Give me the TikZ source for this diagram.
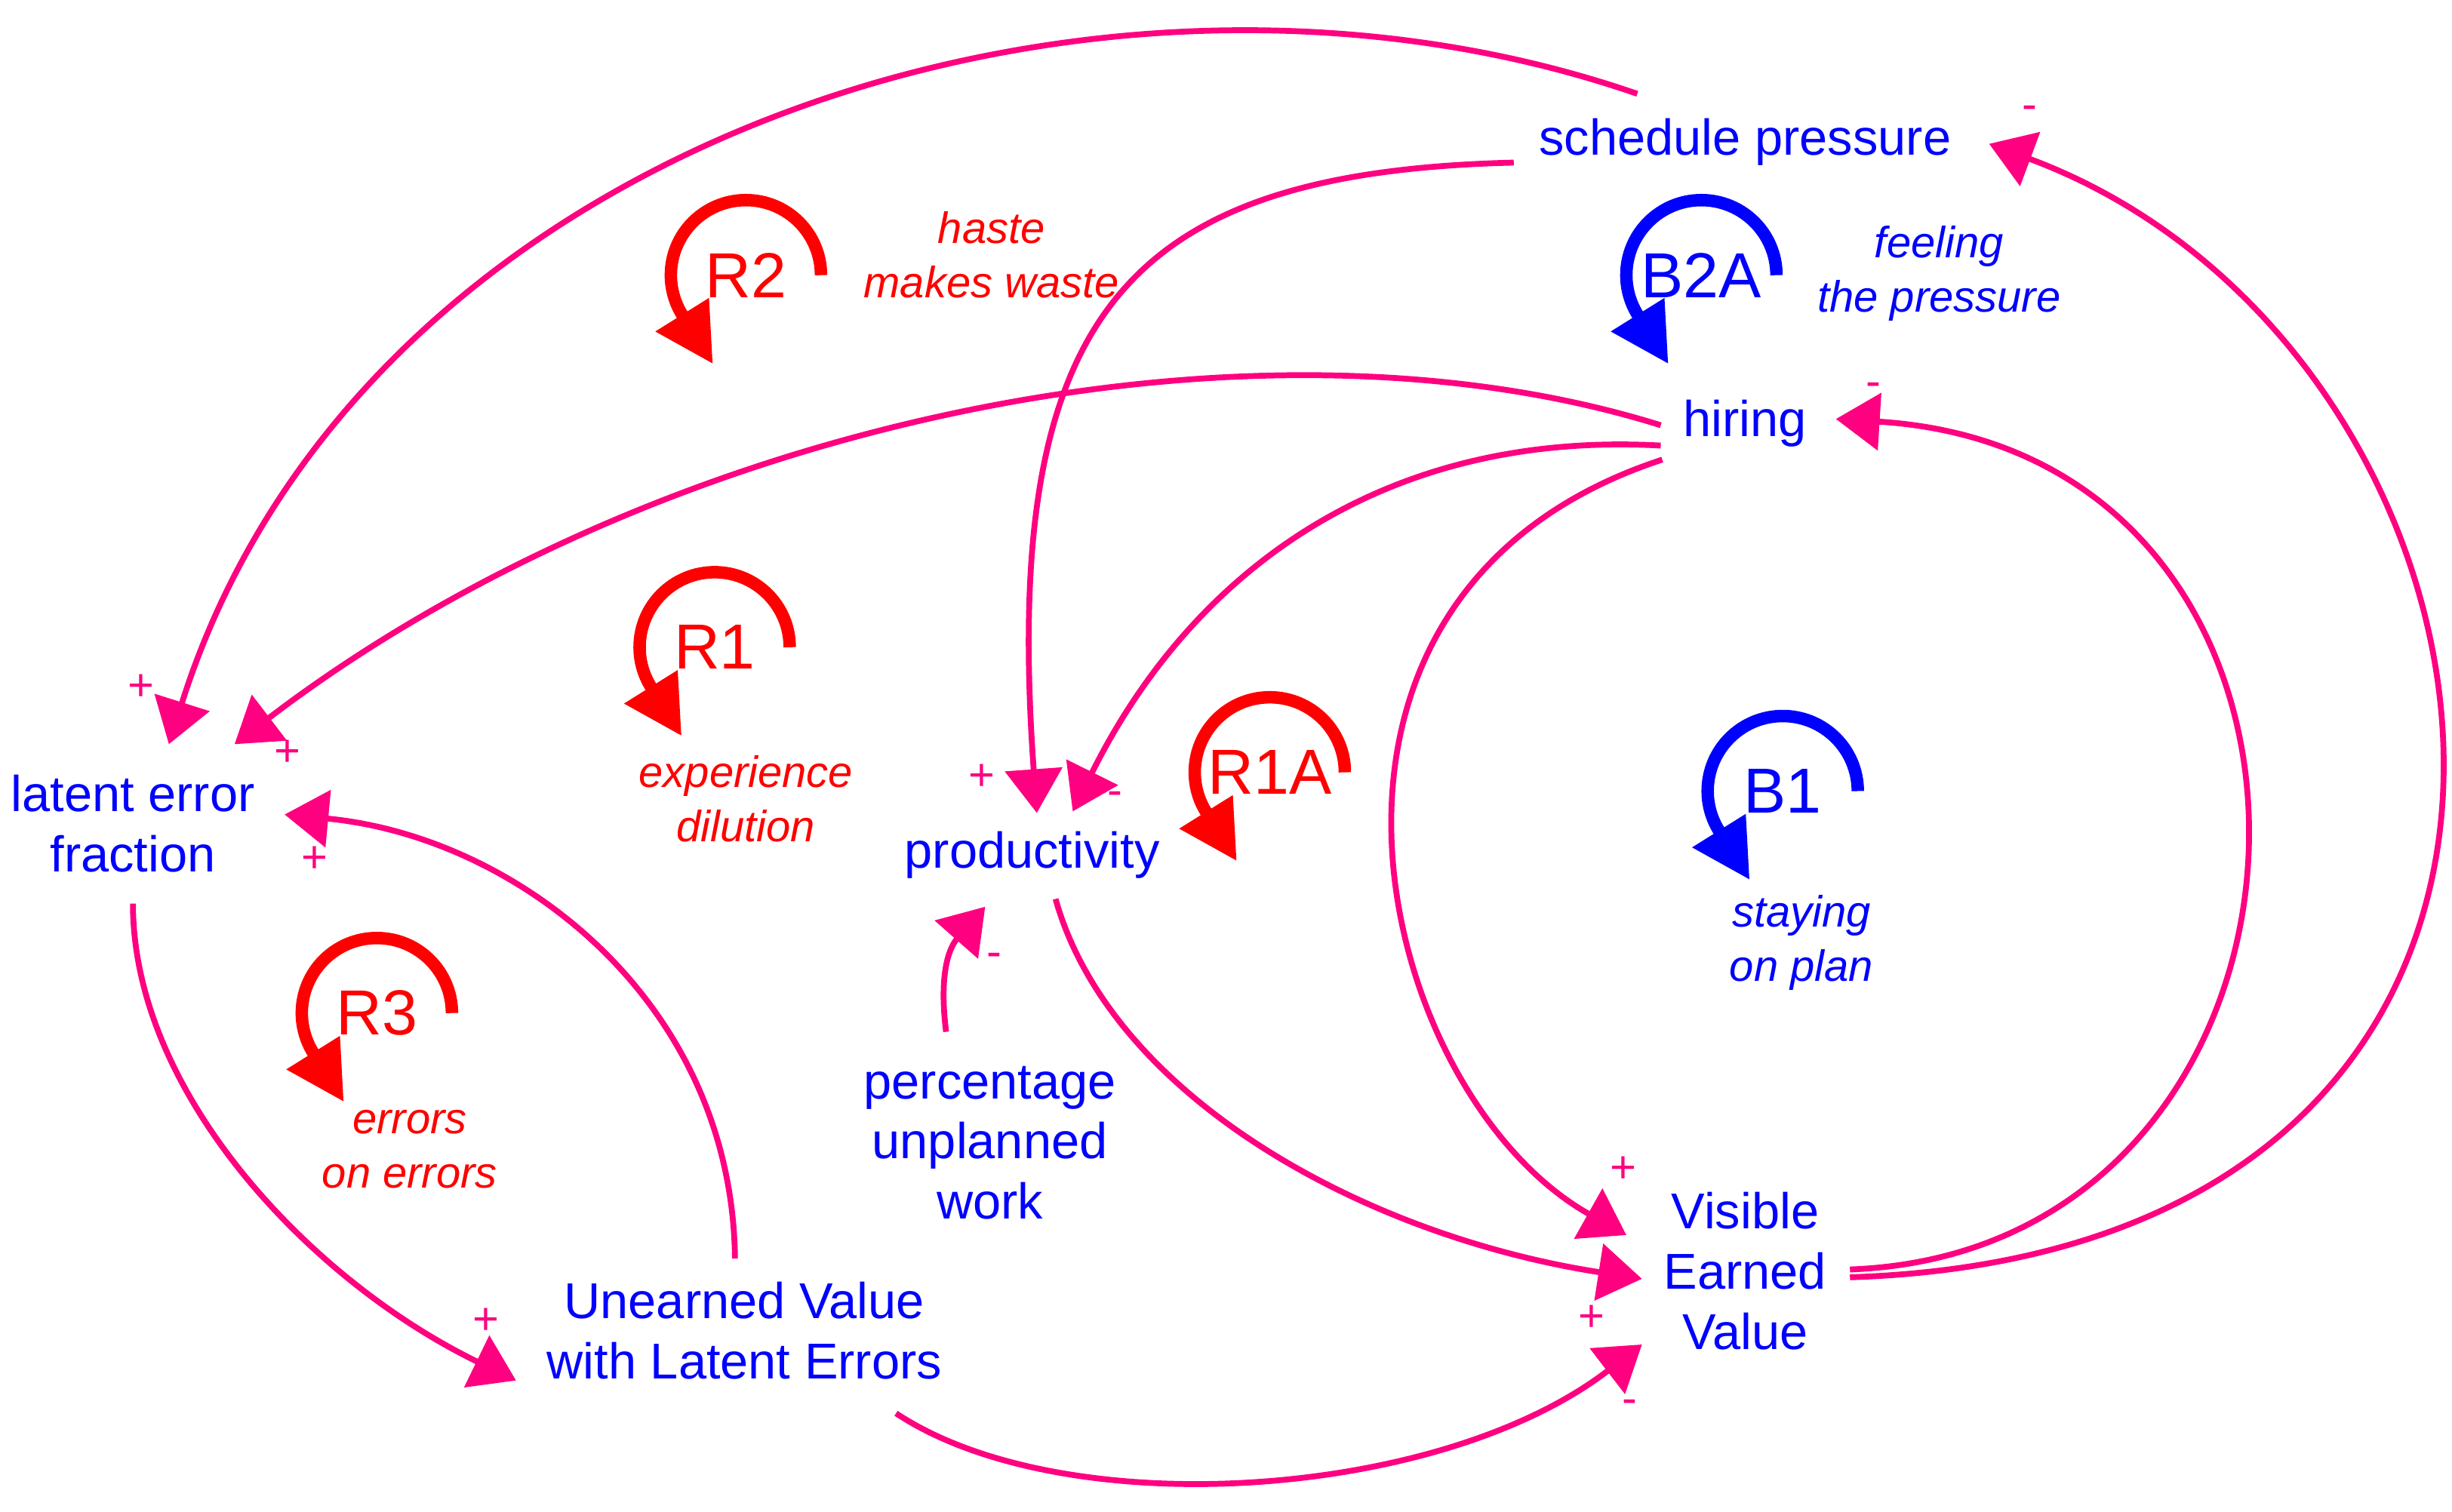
\documentclass[tikz,border=0pt]{standalone}
\usepackage{fontspec}
\setmainfont{Liberation Sans}
\usetikzlibrary{arrows.meta}

\begin{document}
\begin{tikzpicture}[>={Triangle[length=5.8mm,width=7.5mm]},line join=bevel,x=0.2072mm,y=-0.2072mm,
  var/.style={text=varcol,font=\fontsize{19}{22.7}\selectfont,align=center,inner sep=0pt},
  loopnote/.style={font=\fontsize{16.5}{20.6}\selectfont\itshape,align=center,inner sep=0pt},
  sign/.style={text=linkcol,font=\fontsize{17}{17}\selectfont,inner sep=0pt},
  loopname/.style={font=\fontsize{24}{24}\selectfont,inner sep=0pt},
  link/.style={draw=linkcol,line width=2.2pt,->},
  loopmark/.style={line width=4.7pt,-{Triangle[length=7.7mm,width=7.9mm]}}]
  \definecolor{varcol}{rgb}{0.0,0.0,1.0}
  \definecolor{redcol}{rgb}{1.0,0.0,0.0}
  \definecolor{linkcol}{rgb}{1.0,0.0,0.5}
  \useasboundingbox (0,0) rectangle (1568,967);
  % Node: schedule pressure
  \node[var] (sp) at (1116,91) {schedule pressure};
  % Node: hiring
  \node[var] (hiring) at (1116,271) {hiring};
  % Node: latent error fraction
  \node[var] (lef) at (85,527) {latent error\\fraction};
  % Node: productivity
  \node[var] (prod) at (660,547) {productivity};
  % Node: percentage unplanned work
  \node[var] (puw) at (633,731) {percentage\\unplanned\\work};
  % Node: Unearned Value with Latent Errors
  \node[var] (uv) at (476,851) {Unearned Value\\with Latent Errors};
  % Node: Visible Earned Value
  \node[var] (vev) at (1116,813) {Visible\\Earned\\Value};
%%
  % Edge: sp -> lef
  \draw[link] ([shift={(-69,-31)}]sp.center) .. controls (700,-60) and (230,90) .. ([shift={(23,-51)}]lef.center);
  % Edge: hiring -> lef
  \draw[link] ([shift={(-54,1)}]hiring.center) .. controls (800,190) and (420,270) .. ([shift={(65,-51)}]lef.center);
  % Edge: uv -> lef
  \draw[link] ([shift={(-6,-46)}]uv.center) .. controls (468,640) and (330,535) .. ([shift={(97,-6)}]lef.center);
  % Edge: lef -> uv
  \draw[link] ([shift={(0,51)}]lef.center) .. controls (85,700) and (200,820) .. ([shift={(-146,32)}]uv.center);
  % Edge: uv -> vev
  \draw[link] ([shift={(97,53)}]uv.center) .. controls (680,975) and (920,960) .. ([shift={(-66,47)}]vev.center);
  % Edge: prod -> vev
  \draw[link] ([shift={(15,28)}]prod.center) .. controls (710,700) and (870,790) .. ([shift={(-66,5)}]vev.center);
  % Edge: hiring -> vev
  \draw[link] ([shift={(-53,23)}]hiring.center) .. controls (800,380) and (880,700) .. ([shift={(-76,-23)}]vev.center);
  % Edge: vev -> hiring
  \draw[link] ([shift={(67,-1)}]vev.center) .. controls (1510,800) and (1530,290) .. ([shift={(58,-3)}]hiring.center);
  % Edge: vev -> sp
  \draw[link] ([shift={(67,4)}]vev.center) .. controls (1710,800) and (1630,225) .. ([shift={(156,1)}]sp.center);
  % Edge: sp -> prod
  \draw[link] ([shift={(-148,13)}]sp.center) .. controls (720,110) and (640,200) .. ([shift={(3,-27)}]prod.center);
  % Edge: hiring -> prod
  \draw[link] ([shift={(-54,14)}]hiring.center) .. controls (880,275) and (760,370) .. ([shift={(26,-28)}]prod.center);
  % Edge: puw -> prod
  \draw[link] ([shift={(-28,-71)}]puw.center) .. controls (600,620) and (608,605) .. ([shift={(-30,33)}]prod.center);
%%
  % Polarity
  \node[sign] (p1) at (90,440) {+};
  \node[sign] (p2) at (184,482) {+};
  \node[sign] (p3) at (201,550) {+};
  \node[sign] (p4) at (311,845) {+};
  \node[sign] (p5) at (1042,900) {-};
  \node[sign] (p6) at (1018,843) {+};
  \node[sign] (p7) at (1038,748) {+};
  \node[sign] (p8) at (1198,249) {-};
  \node[sign] (p9) at (1298,72) {-};
  \node[sign] (p10) at (628,497) {+};
  \node[sign] (p11) at (713,511) {-};
  \node[sign] (p12) at (636,614) {-};
%%
  % Loop: R2
  \node[loopname,text=redcol] (r2) at (477,176) {R2};
  \draw[loopmark,redcol] ([shift={(48,0)}]r2.center) arc[start angle=0,end angle=-212,radius=48] -- ++(58:37);
  \node[loopnote,text=redcol] (r2txt) at (634,163) {haste\\makes waste};
  % Loop: R1
  \node[loopname,text=redcol] (r1) at (457,414) {R1};
  \draw[loopmark,redcol] ([shift={(48,0)}]r1.center) arc[start angle=0,end angle=-212,radius=48] -- ++(58:37);
  \node[loopnote,text=redcol] (r1txt) at (477,511) {experience\\dilution};
  % Loop: R1A
  \node[loopname,text=redcol] (r1a) at (812,494) {R1A};
  \draw[loopmark,redcol] ([shift={(48,0)}]r1a.center) arc[start angle=0,end angle=-212,radius=48] -- ++(58:37);
  % Loop: R3
  \node[loopname,text=redcol] (r3) at (241,648) {R3};
  \draw[loopmark,redcol] ([shift={(48,0)}]r3.center) arc[start angle=0,end angle=-212,radius=48] -- ++(58:37);
  \node[loopnote,text=redcol] (r3txt) at (262,735) {errors\\on errors};
  % Loop: B2A
  \node[loopname,text=varcol] (b2a) at (1088,176) {B2A};
  \draw[loopmark,varcol] ([shift={(48,0)}]b2a.center) arc[start angle=0,end angle=-212,radius=48] -- ++(58:37);
  \node[loopnote,text=varcol] (b2atxt) at (1240,175) {feeling\\the pressure};
  % Loop: B1
  \node[loopname,text=varcol] (b1) at (1140,506) {B1};
  \draw[loopmark,varcol] ([shift={(48,0)}]b1.center) arc[start angle=0,end angle=-212,radius=48] -- ++(58:37);
  \node[loopnote,text=varcol] (b1txt) at (1152,603) {staying\\on plan};
%
\end{tikzpicture}
\end{document}
